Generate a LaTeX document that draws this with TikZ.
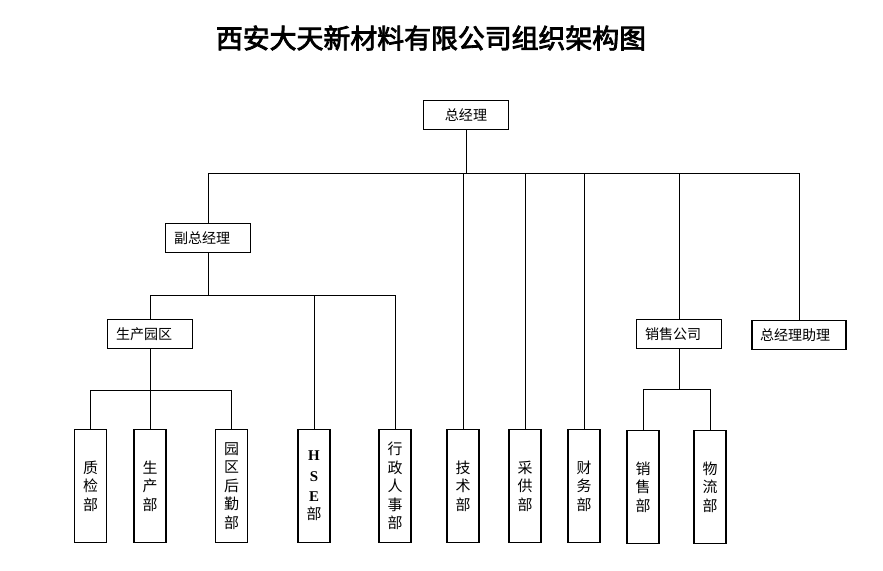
\documentclass[tikz,border=0pt]{standalone}
\usepackage{fontspec}
\setmainfont{Liberation Serif}
\newfontfamily\cjk{Noto Sans CJK SC}
\newfontfamily\cjktitle{Noto Sans CJK SC}[FakeBold=3]
\begin{document}
\begin{tikzpicture}[
            x=0.02cm, y=-0.02cm,
            box/.style={rectangle, draw, semithick, font=\cjk\fontsize{8}{9}\selectfont, minimum width=1.7cm, minimum height=0.58cm, inner sep=1pt},
            lbox/.style={box, text width=1.36cm, align=left, inner xsep=0.16cm},
            vbox/.style={rectangle, draw, semithick, font=\cjk\fontsize{8.5}{10.5}\selectfont, align=center, minimum width=0.64cm, minimum height=2.26cm, inner sep=1pt},
            link/.style={draw, line width=0.5pt}
        ]
            \useasboundingbox (0,0) rectangle (883,571);

            % title
            \node[font=\cjktitle\fontsize{15.3}{18}\selectfont] (title) at (431,38) {西安大天新材料有限公司组织架构图};

            % top level
            \node[box] (gm) at (466,115) {总经理};
            \coordinate (bus1l) at (208,173);
            \coordinate (bus1r) at (799,173);

            \node[lbox] (vgm) at (208,238) {副总经理};
            \node[lbox] (sales) at (679,334) {销售公司};
            \node[lbox, text width=1.56cm] (assist) at (799,335) {总经理助理};

            % second level
            \coordinate (bus2l) at (150,295);
            \coordinate (bus2r) at (395,295);
            \node[lbox] (park) at (150,334) {生产园区};
            \coordinate (bus3l) at (91,390);
            \coordinate (bus3r) at (232,390);
            \coordinate (bus4l) at (643,389);
            \coordinate (bus4r) at (710,389);

            % departments
            \node[vbox] (qc) at (90.5,486) {质\\检\\部};
            \node[vbox] (prod) at (150,486) {生\\产\\部};
            \node[vbox] (logi) at (231.5,486) {园\\区\\后\\勤\\部};
            \node[vbox] (hse) at (314,486) {{\rmfamily\bfseries H}\\[1pt]{\rmfamily\bfseries S}\\[1pt]{\rmfamily\bfseries E}\\部};
            \node[vbox] (admin) at (395,486) {行\\政\\人\\事\\部};
            \node[vbox] (tech) at (463,486) {技\\术\\部};
            \node[vbox] (purch) at (525,486) {采\\供\\部};
            \node[vbox] (fin) at (584,486) {财\\务\\部};
            \node[vbox] (sdept) at (643,487) {销\\售\\部};
            \node[vbox] (flow) at (710,487) {物\\流\\部};

            % links
            \draw[link] (bus1l) -- (bus1r);
            \draw[link] (gm.south) -- (gm.south |- bus1l);
            \draw[link] (vgm.north) -- (vgm.north |- bus1l);
            \draw[link] (tech.north) -- (tech.north |- bus1l);
            \draw[link] (purch.north) -- (purch.north |- bus1l);
            \draw[link] (fin.north) -- (fin.north |- bus1l);
            \draw[link] (sales.north) -- (sales.north |- bus1l);
            \draw[link] (assist.north) -- (assist.north |- bus1l);

            \draw[link] (bus2l) -- (bus2r);
            \draw[link] (vgm.south) -- (vgm.south |- bus2l);
            \draw[link] (park.north) -- (park.north |- bus2l);
            \draw[link] (hse.north) -- (hse.north |- bus2l);
            \draw[link] (admin.north) -- (admin.north |- bus2l);

            \draw[link] (bus3l) -- (bus3r);
            \draw[link] (park.south) -- (park.south |- bus3l);
            \draw[link] (qc.north) -- (qc.north |- bus3l);
            \draw[link] (prod.north) -- (prod.north |- bus3l);
            \draw[link] (logi.north) -- (logi.north |- bus3l);

            \draw[link] (bus4l) -- (bus4r);
            \draw[link] (sales.south) -- (sales.south |- bus4l);
            \draw[link] (sdept.north) -- (sdept.north |- bus4l);
            \draw[link] (flow.north) -- (flow.north |- bus4l);
        \end{tikzpicture}
\end{document}
